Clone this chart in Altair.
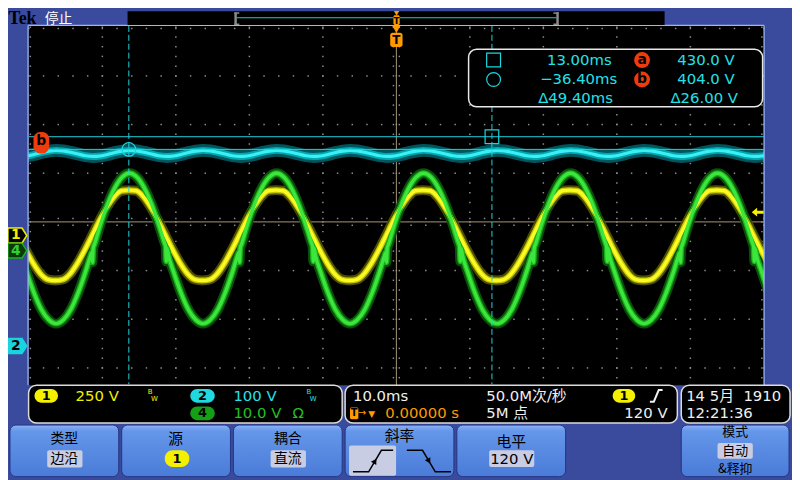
import altair as alt
import pandas as pd

TIME_PER_DIV = 10.0                 # ms / div
CH1_VDIV, CH1_POS = 250.0, -0.28    # V/div, offset in divisions
CH2_VDIV, CH2_POS = 100.0, -2.55
CH4_VDIV, CH4_POS = 10.0, -0.59
TRIG_LEVEL = 120.0                  # V, channel 1
SCREEN_MS = [-50.0, 50.0]

# channel 1: one 20 ms cycle, samples around the positive peak
ch1_rel_ms = [-10, -9, -8, -7, -6, -5, -4, -3, -2, -1, 0, 1, 2, 3, 4, 5, 6, 7, 8, 9]
ch1_volts = [-231, -226, -197, -143, -75, 0, 76, 144, 199, 230, 233, 230, 199, 144, 76, 0,
             -75, -143, -197, -226]
CH1_PEAK_MS, CH1_PERIOD_MS = 3.6, 20.0

# channel 4: one 20 ms cycle incl. the notches at the zero crossings
ch4_rel_ms = [-10, -9, -8, -7, -6, -5.3, -5.15, -5.05, -4.95, -4.75, -4, -3, -2, -1, 0, 1, 2, 3, 4,
              4.75, 4.9, 5.0, 5.1, 5.3, 6, 7, 8, 9]
ch4_volts = [-15.0, -14.2, -12.1, -8.7, -4.4, -1.0, -0.4, -2.4, 0.5, 1.4, 5.2, 9.5, 12.9, 15.1, 15.9,
             15.1, 12.9, 9.5, 5.2, 1.6, 0.9, -2.2, 0.5, -1.0, -4.4, -8.7, -12.1, -14.2]
CH4_PEAK_MS, CH4_PERIOD_MS = 3.7, 20.0

# channel 2: DC bus ripple, one 10 ms cycle
ch2_rel_ms = [0, 1, 2, 3, 4, 5, 6, 7, 8, 9]
ch2_volts = [402.0, 401.0, 398.0, 394.5, 391.0, 389.5, 390.5, 393.5, 397.5, 400.5]
CH2_PEAK_MS, CH2_PERIOD_MS = 3.7, 10.0

# cursors (time: square, circle / amplitude on ch 2: a, b)
cursor_ms = [13.00, -36.40]
cursor_volts = [430.0, 404.0]

ch_labels = ['1', '4', '2']
ch_positions = [CH1_POS, CH4_POS, CH2_POS]

scale_texts = ['250 V', '100 V', '10.0 V']
time_base = '10.0ms'
trigger_delay = '0.00000 s'
sample_rate = '50.0M次/秒'
record_len = '5M 点'
trig_level_txt = '120 V'
date_txt = '14 5月\u00a0\u00a01910'
clock_txt = '12:21:36'
buttons = [('类型', '边沿'), ('源', '1'), ('耦合', '直流'), ('斜率', ''), ('电平', '120 V'), ('模式', '自动')]
mode_extra = '&释抑'

# ================= layout / styling =================
W, H = 792, 472
REF_W, REF_H = 800, 480
CX, CY = 396.3, 217.3
PPD_X, PPD_Y = 75.0, 50.0

FRAME = '#3a4a9c'
GRID = '#8e8e8e'
CROSS = '#a69878'
CUR = '#1cd6e0'
CYT = '#22e2ea'
YEL = '#f4f000'
GRN = '#22c022'
ORG = '#ff9a00'
WHT = '#f0f0f0'
RED = '#f03c0c'
HIL = '#c8cde4'
SANS = 'DejaVu Sans'
CJK = 'Noto Sans CJK SC'
MIX = 'DejaVu Sans, Noto Sans CJK SC'


def t_at(px):
    return (px - CX) / PPD_X * TIME_PER_DIV


def d_at(py):
    return (CY - py) / PPD_Y


def S(domain, reverse=False):
    return alt.Scale(domain=list(domain), nice=False, zero=False, reverse=reverse)


def XP(f='x'):
    return alt.X(f'{f}:Q', scale=S([0, REF_W]), axis=None)


def YP(f='y'):
    return alt.Y(f'{f}:Q', scale=S([0, REF_H], reverse=True), axis=None)


def XT(f='t'):
    return alt.X(f'{f}:Q', scale=S([t_at(0), t_at(REF_W)]), axis=None)


def YD(f='d'):
    return alt.Y(f'{f}:Q', scale=S([d_at(REF_H), d_at(0)]), axis=None)


def YV(vdiv, pos, f='v'):
    return alt.Y(f'{f}:Q', scale=S([(d_at(REF_H) - pos) * vdiv, (d_at(0) - pos) * vdiv]), axis=None)


def rects(rows, radius=0, sw=0):
    df = pd.DataFrame(rows, columns=['x', 'y', 'x2', 'y2', 'fill', 'stroke'])
    return alt.Chart(df).mark_rect(cornerRadius=radius, strokeWidth=sw).encode(
        x=XP(), x2=alt.X2('x2:Q'), y=YP(), y2=alt.Y2('y2:Q'),
        fill=alt.Fill('fill:N', scale=None), stroke=alt.Stroke('stroke:N', scale=None))


def texts(rows, align='left', font=SANS, weight='normal'):
    df = pd.DataFrame(rows, columns=['x', 'y', 'text', 'color', 'size'])
    return alt.Chart(df).mark_text(align=align, baseline='middle', font=font, fontWeight=weight).encode(
        x=XP(), y=YP(), text='text:N', color=alt.Color('color:N', scale=None),
        size=alt.Size('size:Q', scale=None))


def polylines(rows, color, width, dash=None):
    df = pd.DataFrame(rows, columns=['g', 'i', 'x', 'y'])
    kw = dict(color=color, strokeWidth=width)
    if dash:
        kw['strokeDash'] = dash
    return alt.Chart(df).mark_line(**kw).encode(x=XP(), y=YP(), detail='g:N', order='i:Q')


def points(rows, shape, size, fill, stroke='none', sw=0, angle=0):
    df = pd.DataFrame(rows, columns=['x', 'y'])
    return alt.Chart(df).mark_point(shape=shape, size=size, filled=True, fill=fill, stroke=stroke,
                                    strokeWidth=sw, opacity=1, fillOpacity=1, angle=angle).encode(
        x=XP(), y=YP())


def periodic(rel, vals, peak, period):
    rows = []
    for n in range(-6, 7):
        for r, v in zip(rel, vals):
            t = peak + n * period + r
            if -53 <= t <= 53:
                rows.append({'t': t, 'v': v})
    return pd.DataFrame(rows).sort_values('t').reset_index(drop=True)


def trace(df, vdiv, pos, color, width, opacity=1.0):
    return alt.Chart(df).mark_line(color=color, strokeWidth=width, interpolate='monotone', clip=True,
                                   strokeJoin='round', opacity=opacity).encode(x=XT(), y=YV(vdiv, pos))


L = []

# ---- graticule ----
L.append(rects([(20.5, 15.5, 771.5, 420, '#000000', 'none')]))
grid = []
div_steps = [4 - 0.2 * k for k in range(38)]
ms_steps = [SCREEN_MS[0] + 2 * k for k in range(51)]
for d in [3, 2, 1, -1, -2, -3]:
    grid += [(t, d) for t in ms_steps]
for t in [-40, -30, -20, -10, 10, 20, 30, 40]:
    grid += [(t, d) for d in div_steps]
grid += [(t, d_at(18.6)) for t in ms_steps]
grid += [(t_at(22.8), d) for d in div_steps] + [(t_at(769.3), d) for d in div_steps]
grid += [(t, s) for t in ms_steps for s in (0.07, -0.07)]
grid += [(s, d) for d in div_steps for s in (-0.4, 0.4)]
L.append(alt.Chart(pd.DataFrame(grid, columns=['t', 'd'])).mark_square(size=2.2, color=GRID, opacity=1)
         .encode(x=XT(), y=YD()))
L.append(alt.Chart(pd.DataFrame({'t1': [SCREEN_MS[0]], 't2': [SCREEN_MS[1]], 'd': [0.0]}))
         .mark_rule(color=CROSS, strokeWidth=1).encode(x=XT('t1'), x2=alt.X2('t2:Q'), y=YD()))
L.append(alt.Chart(pd.DataFrame({'t': [0.0], 'y1': [16.0], 'y2': [385.0]}))
         .mark_rule(color=CROSS, strokeWidth=1).encode(x=XT(), y=YP('y1'), y2=alt.Y2('y2:Q')))

# ---- waveforms (persistence look: dim halo, mid band, bright core) ----
c1 = periodic(ch1_rel_ms, ch1_volts, CH1_PEAK_MS, CH1_PERIOD_MS)
c4 = periodic(ch4_rel_ms, ch4_volts, CH4_PEAK_MS, CH4_PERIOD_MS)
c2 = periodic(ch2_rel_ms, ch2_volts, CH2_PEAK_MS, CH2_PERIOD_MS)
L += [trace(c2, CH2_VDIV, CH2_POS, '#00545c', 13),
      trace(c1, CH1_VDIV, CH1_POS, '#4e4e00', 10),
      trace(c4, CH4_VDIV, CH4_POS, '#0a500a', 10)]
L += [trace(c2, CH2_VDIV, CH2_POS, '#00a6b0', 7),
      trace(c1, CH1_VDIV, CH1_POS, '#c4c400', 6),
      trace(c4, CH4_VDIV, CH4_POS, '#1aac1a', 6)]
L += [trace(c2, CH2_VDIV, CH2_POS, '#3af0f2', 3.2),
      trace(c1, CH1_VDIV, CH1_POS, '#fafa24', 3.4),
      trace(c4, CH4_VDIV, CH4_POS, '#3ce63c', 3.4)]

# ---- frame around the graticule ----
L.append(rects([(0, 0, 20.5, 480, FRAME, 'none'), (771.5, 0, 800, 480, FRAME, 'none'),
                (0, 0, 800, 15.5, FRAME, 'none'), (0, 385, 800, 480, FRAME, 'none')]))
L.append(polylines([(0, 0, 20.5, 15.5), (0, 1, 771.5, 15.5), (1, 0, 20.5, 15.5), (1, 1, 20.5, 385),
                    (2, 0, 771.5, 15.5), (2, 1, 771.5, 385)], '#9cb8f4', 1.3))

# ---- cursors ----
L.append(alt.Chart(pd.DataFrame({'t1': [SCREEN_MS[0]] * 2, 't2': [SCREEN_MS[1]] * 2, 'v': cursor_volts}))
         .mark_rule(color=CUR, strokeWidth=1).encode(x=XT('t1'), x2=alt.X2('t2:Q'), y=YV(CH2_VDIV, CH2_POS)))
L.append(alt.Chart(pd.DataFrame({'t': cursor_ms, 'y1': [16.0, 16.0], 'y2': [384.0, 384.0]}))
         .mark_rule(color=CUR, strokeWidth=1, strokeDash=[6, 3]).encode(x=XT(), y=YP('y1'), y2=alt.Y2('y2:Q')))
for shape, tt, vv in [('square', cursor_ms[0], cursor_volts[0]), ('circle', cursor_ms[1], cursor_volts[1])]:
    L.append(alt.Chart(pd.DataFrame({'t': [tt], 'v': [vv]}))
             .mark_point(shape=shape, size=190, filled=False, stroke=CUR, strokeWidth=1.2, opacity=1)
             .encode(x=XT(), y=YV(CH2_VDIV, CH2_POS)))

# ---- channel markers on the left ----
PENT = 'M-1,-0.79 L0.5,-0.79 L1,0 L0.5,0.79 L-1,0.79 Z'
mk_style = [('#000000', YEL, YEL), ('#0a3a0a', '#1eb01e', '#30d030'), ('#18d4de', '#18d4de', '#000000')]
for lab, pos, (fill, stroke, tcol) in zip(ch_labels, ch_positions, mk_style):
    dfm = pd.DataFrame({'x': [9.5], 'd': [pos], 'text': [lab]})
    L.append(alt.Chart(dfm).mark_point(shape=PENT, size=361, filled=True, fill=fill, stroke=stroke,
                                       strokeWidth=1.5, opacity=1, fillOpacity=1).encode(x=XP(), y=YD()))
    L.append(alt.Chart(dfm).mark_text(font=SANS, fontSize=14, fontWeight='bold', color=tcol, dx=-1.5)
             .encode(x=XP(), y=YD(), text='text:N'))

# cursor badge on the left
L.append(rects([(26, 125, 42, 147, RED, 'none')], radius=7))
L.append(texts([(34, 134.5, 'b', '#000000', 14)], align='center', weight='bold'))

# trigger level arrow (right)
ARROW = 'M-1,0 L-0.1,-0.75 L-0.1,-0.25 L1,-0.25 L1,0.25 L-0.1,0.25 L-0.1,0.75 Z'
L.append(alt.Chart(pd.DataFrame({'x': [765.0], 'v': [TRIG_LEVEL]}))
         .mark_point(shape=ARROW, size=144, filled=True, fill=YEL, opacity=1, fillOpacity=1)
         .encode(x=XP(), y=YV(CH1_VDIV, CH1_POS)))

# trigger position marker (top)
L.append(points([(396.3, 19.5)], 'triangle-down', 70, ORG))
L.append(rects([(390, 23, 402.6, 37.5, ORG, 'none')], radius=2.5))
L.append(texts([(396.3, 30.5, 'T', '#000000', 12)], align='center', weight='bold'))

# ---- cursor readout box ----
L.append(rects([(470, 40, 770, 99, '#000000', '#e8e8e8')], radius=8, sw=1.5))
L.append(alt.Chart(pd.DataFrame({'x': [495.5], 'y': [51.0]})).mark_point(
    shape='square', size=196, filled=False, stroke=CUR, strokeWidth=1.2, opacity=1).encode(x=XP(), y=YP()))
L.append(alt.Chart(pd.DataFrame({'x': [495.5], 'y': [71.0]})).mark_point(
    shape='circle', size=196, filled=False, stroke=CUR, strokeWidth=1.2, opacity=1).encode(x=XP(), y=YP()))
L.append(points([(647, 51), (647, 71)], 'circle', 256, RED))
L.append(texts([(647, 51, 'a', '#000000', 14), (647, 70.5, 'b', '#000000', 14)], align='center', weight='bold'))
dt = cursor_ms[0] - cursor_ms[1]
dv = cursor_volts[0] - cursor_volts[1]
L.append(texts([
    (550, 51, f'{cursor_ms[0]:.2f}ms', CYT, 15),
    (543, 71, f'{cursor_ms[1]:.2f}ms'.replace('-', '−'), CYT, 15),
    (541, 90, f'Δ{dt:.2f}ms', CYT, 15),
    (683, 51, f'{cursor_volts[0]:.1f} V', CYT, 15),
    (683, 71, f'{cursor_volts[1]:.1f} V', CYT, 15),
    (676, 90, f'Δ{dv:.2f} V', CYT, 15),
]))

# ---- top bar ----
L.append(texts([(0.5, 8.5, 'Tek', '#000000', 18)], font='Liberation Serif', weight='bold'))
L.append(texts([(37.5, 8.8, '停止', '#ffffff', 14)], font=CJK))
L.append(rects([(122, 1, 670, 15, '#000000', 'none')]))
L.append(rects([(231, 2, 233.5, 15, '#8c8c8c', 'none'), (559.5, 2, 562, 15, '#8c8c8c', 'none'),
                (231, 2, 236, 3.5, '#8c8c8c', 'none'), (231, 13.5, 236, 15, '#8c8c8c', 'none'),
                (556.5, 2, 562, 3.5, '#8c8c8c', 'none'), (556.5, 13.5, 562, 15, '#8c8c8c', 'none'),
                (233.5, 7, 559.5, 8, '#20c8d2', 'none')]))
L.append(points([(396.5, 3)], 'triangle-down', 30, ORG))
L.append(rects([(393.3, 5, 399.7, 15, ORG, 'none')], radius=1.5))
L.append(texts([(396.5, 10.5, 'T', '#000000', 9)], align='center', weight='bold'))

# ---- bottom readouts ----
L.append(rects([(21, 385, 341, 424, '#000000', '#dcdcdc'), (344, 385, 683, 424, '#000000', '#dcdcdc'),
                (687, 385, 798, 424, '#000000', '#dcdcdc')], radius=8, sw=1.5))
L.append(rects([(27, 389, 51, 403, YEL, 'none'), (186, 389, 211, 403, '#20d8e0', 'none'),
                (186, 407, 211, 421, '#14a014', 'none'), (617, 389, 640, 403, YEL, 'none')], radius=7))
L.append(rects([(349, 408, 357.5, 420, ORG, 'none')], radius=1.5))
L.append(texts([(39, 396, ch_labels[0], '#000000', 13), (198.5, 396, ch_labels[2], '#000000', 13),
                (198.5, 414, ch_labels[1], '#000000', 13), (628.5, 396, ch_labels[0], '#000000', 13),
                (353.2, 414, 'T', '#000000', 10)],
               align='center', weight='bold'))
L.append(texts([
    (69, 396, scale_texts[0], YEL, 15), (230, 396, scale_texts[1], CYT, 15), (230, 414, scale_texts[2], GRN, 15),
    (352, 396, time_base, WHT, 15), (385, 414, trigger_delay, ORG, 15),
    (488, 396, sample_rate, WHT, 15), (488, 414, record_len, WHT, 15),
    (692, 396, date_txt, WHT, 15), (692, 414, clock_txt, WHT, 15),
], font=MIX))
L.append(texts([(673, 414, trig_level_txt, WHT, 15)], align='right'))
L.append(texts([(296, 414, 'Ω', GRN, 15), (361, 414, '→', ORG, 10), (371, 414.5, '▼', ORG, 9),
                (145, 392, 'B', YEL, 7), (149.5, 399, 'W', YEL, 7),
                (307, 392, 'B', CYT, 7), (311.5, 399, 'W', CYT, 7)], align='center'))
L.append(polylines([(0, 0, 655, 402), (0, 1, 659, 402), (0, 2, 664, 390), (0, 3, 668, 390)], WHT, 2))

# ---- soft-key buttons ----
btn_x = [(2, 113), (116, 227), (230, 341), (344, 455), (458, 569), (687, 797)]
btn_df = pd.DataFrame([(a, 426, b, 479) for a, b in btn_x], columns=['x', 'y', 'x2', 'y2'])
L.append(alt.Chart(btn_df).mark_rect(
    cornerRadius=6, stroke='#24357f', strokeWidth=1,
    fill=alt.Gradient(gradient='linear', x1=0, x2=0, y1=0, y2=1,
                      stops=[alt.GradientStop(color='#8ab2f6', offset=0),
                             alt.GradientStop(color='#6496ea', offset=0.12),
                             alt.GradientStop(color='#4a7bd8', offset=1)])
).encode(x=XP(), x2=alt.X2('x2:Q'), y=YP(), y2=alt.Y2('y2:Q')))
L.append(rects([(40, 452, 76, 469.5, HIL, 'none'), (268, 452, 304, 469.5, HIL, 'none'),
                (491, 452, 537, 469, HIL, 'none'), (724, 444.5, 760, 460.5, HIL, 'none'),
                (348, 447, 396, 478, HIL, 'none')], radius=2))
L.append(rects([(160, 452, 185, 469, YEL, 'none')], radius=8))
L.append(texts([(172.5, 460.5, buttons[1][1], '#000000', 13)], align='center', weight='bold'))
L.append(texts([
    (57.5, 440.5, buttons[0][0], '#000000', 14), (57.5, 461, buttons[0][1], '#000000', 14),
    (171, 440.5, buttons[1][0], '#000000', 15),
    (285.5, 440.5, buttons[2][0], '#000000', 14), (285.5, 461, buttons[2][1], '#000000', 14),
    (399.5, 437, buttons[3][0], '#000000', 15),
    (513.5, 443, buttons[4][0], '#000000', 15),
], align='center', font=CJK))
L.append(texts([
    (742, 433.5, buttons[5][0], '#000000', 13), (742, 452.5, buttons[5][1], '#000000', 13),
    (742, 471.5, mode_extra, '#000000', 13),
], align='center', font=CJK))
L.append(texts([(514, 460.5, buttons[4][1], '#000000', 15)], align='center'))
L.append(polylines([(0, 0, 352, 474), (0, 1, 368, 474), (0, 2, 381, 452), (0, 3, 393, 452),
                    (1, 0, 407, 452), (1, 1, 423, 452), (1, 2, 436, 474), (1, 3, 452, 474)], '#000000', 1.5))
L.append(points([(374.5, 463)], 'triangle-up', 40, '#000000', angle=31))
L.append(points([(429.5, 463)], 'triangle-up', 40, '#000000', angle=151))

chart = alt.layer(*L).resolve_scale(x='independent', y='independent').properties(
    width=W, height=H, padding=0, autosize='none', background=FRAME
).configure_view(stroke=None)

chart.save("out.html", embed_options={"renderer": "svg", "actions": False})
